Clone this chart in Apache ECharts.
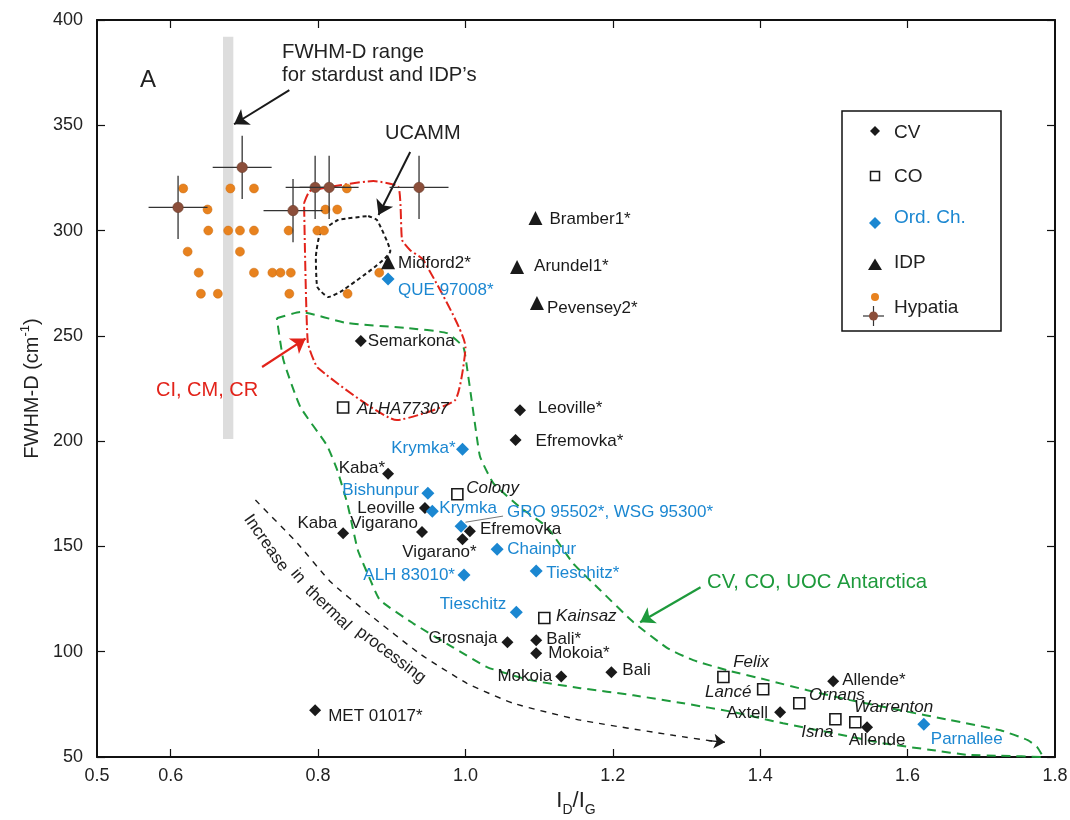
<!DOCTYPE html>
<html><head><meta charset="utf-8">
<script src="https://cdn.jsdelivr.net/npm/echarts@6/dist/echarts.min.js"></script>
<style>html,body{margin:0;padding:0;background:#fff}#c{width:1070px;height:820px}</style>
</head><body><div id="c"></div>
<script>
// ---------------- DATA ----------------
const cvNames = ['Semarkona','Leoville*','Efremovka*','Kaba*','Leoville','Kaba','Vigarano','Efremovka','Vigarano*','Grosnaja','Bali*','Mokoia*','Mokoia','Bali','MET 01017*','Allende*','Axtell','Allende'];
const cvX = [0.858,1.074,1.068,0.895,0.945,0.834,0.941,1.006,0.996,1.057,1.096,1.096,1.130,1.198,0.796,1.499,1.427,1.545];
const cvY = [247.5,214.7,200.5,184.5,168.3,156.3,156.8,157.2,153.4,104.5,105.5,99.3,88.2,90.3,72.2,86.0,71.3,64.1];

const coNames = ['ALHA77307','Colony','Kainsaz','Felix','Lancé','Ornans','Isna','Warrenton'];
const coX = [0.834,0.989,1.107,1.350,1.404,1.453,1.502,1.529];
const coY = [216.0,174.8,116.0,88.0,82.2,75.5,67.9,66.5];

const ocNames = ['QUE 97008*','Krymka*','Bishunpur','Krymka','GRO 95502*, WSG 95300*','Chainpur','Tieschitz*','ALH 83010*','Tieschitz','Parnallee'];
const ocX = [0.895,0.996,0.949,0.955,0.994,1.043,1.096,0.998,1.069,1.622];
const ocY = [277.0,196.2,175.3,166.7,159.6,148.7,138.3,136.4,118.8,65.6];

const idpNames = ['Midford2*','Bramber1*','Arundel1*','Pevensey2*'];
const idpX = [0.895,1.095,1.070,1.097];
const idpY = [285.0,306.0,282.7,265.6];

const hypX = [0.617,0.681,0.713,0.839, 0.650,0.810,0.826, 0.651,0.678,0.694,0.713,0.760,0.799,0.808, 0.623,0.694, 0.638,0.713,0.738,0.749,0.763,0.883, 0.641,0.664,0.761,0.840];
const hypY = [320,320,320,320, 310,310,310, 300,300,300,300,300,300,300, 290,290, 280,280,280,280,280,280, 270,270,270,270];

const hypEX = [0.610,0.697,0.766,0.796,0.815,0.937];
const hypEY = [311,330,309.5,320.5,320.5,320.5];
const hypXErr = 0.04;
const hypYErr = 15;

const bandRange = [[0.671,201],[0.685,392]];

const ciOutline = [[0.781,313.1],[0.789,318.8],[0.875,323.5],[0.909,320.7],[0.914,295.5],[0.925,290.7],[0.943,286.0],[1.000,244.7],[0.986,219.5],[0.907,210.0],[0.800,234.7],[0.786,247.0],[0.781,313.1]];
const ucammOutline = [[0.868,306.9],[0.880,305.0],[0.898,290.3],[0.834,271.7],[0.814,268.4],[0.799,273.2],[0.797,287.4],[0.803,298.8],[0.827,305.0],[0.868,306.9]];
const antOutline = [[0.744,258.4],[0.776,261.3],[0.839,256.1],[0.921,253.7],[0.975,251.3],[0.997,244.7],[1.002,235.2],[1.016,200.5],[1.020,192.4],[1.038,180.0],[1.074,168.6],[1.111,159.1],[1.146,142.0],[1.183,129.2],[1.228,114.0],[1.274,101.7],[1.309,96.0],[1.355,91.2],[1.410,86.5],[1.464,81.7],[1.522,77.0],[1.590,72.2],[1.658,67.5],[1.726,62.7],[1.763,58.0],[1.776,54.6],[1.784,50.0],[1.726,50.6],[1.681,51.0],[1.635,53.2],[1.567,56.5],[1.499,61.3],[1.431,66.0],[1.364,71.3],[1.296,75.5],[1.228,79.3],[1.156,82.7],[1.088,86.5],[1.030,92.6],[0.983,102.1],[0.929,113.5],[0.884,124.5],[0.871,134.0],[0.854,148.2],[0.840,170.0],[0.826,186.2],[0.812,198.0],[0.776,216.2],[0.753,238.5],[0.744,258.4]];
const thermalCurve = [[0.715,172.0],[0.772,151.5],[0.816,133.5],[0.871,117.3],[0.939,98.8],[1.002,85.0],[1.065,75.5],[1.156,67.5],[1.282,60.3],[1.335,57.6]];
const thermalHead = [[1.330,57.8],[1.352,57.0]];

const arrowStardust = [[0.761,366.7],[0.686,350.5]];
const arrowUcamm = [[0.925,337.3],[0.882,307.4]];
const arrowCI = [[0.724,235.2],[0.783,248.7]];
const arrowAnt = [[1.319,130.6],[1.237,114.0]];
const groLeader = [[1.000,161.5],[1.051,164.4]];

const xLabelValues = [0.5,0.6,0.8,1.0,1.2,1.4,1.6,1.8];
const xTickValues = [0.6,0.8,1.0,1.2,1.4,1.6];

// ---------------- STYLE ----------------
const F = '"Liberation Sans", Arial, Helvetica, sans-serif';
const BLACK = '#1a1a1a', BLUE = '#1b87d1', GREEN = '#1e9a3c', RED = '#e2231a', ORANGE = '#e8821e', BROWN = '#8b4e3a';

// label placement: [position, distance, dx, dy]
const LBL = {
 'Semarkona':['right',1,0,0],'Leoville*':['right',12,0,-2],'Efremovka*':['right',14,0,1],
 'Kaba*':['left',-3,0,-5],'Leoville':['left',4,0,0],'Kaba':['left',0,0,-10],'Vigarano':['left',-2,0,-9],
 'Efremovka':['right',4,0,-2],'Vigarano*':['bottom',-1,-23,0],'Grosnaja':['left',4,0,-4],'Bali*':['right',4,0,-1],
 'Mokoia*':['right',6,0,0],'Mokoia':['left',3,0,0],'Bali':['right',5,0,-2],'MET 01017*':['right',7,0,6],
 'Allende*':['right',3,0,-1],'Axtell':['left',6,0,1],'Allende':['bottom',-1,10,0],
 'ALHA77307':['right',7.5,0,2],'Colony':['right',2.5,0,-6],'Kainsaz':['right',5.5,0,-2],'Felix':['right',3.5,0,-15],
 'Lancé':['left',5.5,0,3],'Ornans':['right',3.5,0,-8],'Isna':['bottom',-1.5,-18,0],'Warrenton':['right',-7.5,0,-15],
 'QUE 97008*':['right',3.5,0,11],'Krymka*':['left',0.5,0,-1],'Bishunpur':['left',2.5,0,-3],'Krymka':['right',0.5,0,-3],
 'GRO 95502*, WSG 95300*':['right',39.5,0,-14],'Chainpur':['right',3.5,0,0],'Tieschitz*':['right',3.5,0,2],
 'ALH 83010*':['left',2.5,0,0],'Tieschitz':['left',3.5,0,-8],'Parnallee':['right',0.5,0,15],
 'Midford2*':['right',3,0,1],'Bramber1*':['right',7,0,1],'Arundel1*':['right',10,0,-1],'Pevensey2*':['right',3,0,5]
};

function pts(names, xs, ys, color, italic) {
  return names.map((n, i) => {
    const l = LBL[n] || ['right',4,0,0];
    return { name: n, value: [xs[i], ys[i]],
      label: { show: true, formatter: n, position: l[0], distance: l[1], offset: [l[2], l[3]],
        fontSize: 17, fontFamily: F, color: color, fontStyle: italic ? 'italic' : 'normal' } };
  });
}
function arrow(coords, color, width, size) {
  return { type: 'lines', coordinateSystem: 'cartesian2d', silent: true, z: 4,
    symbol: ['none','arrow'], symbolSize: size || 13,
    lineStyle: { color: color, width: width || 2, opacity: 1, curveness: 0 },
    data: [{ coords: coords }] };
}
function outline(data, color, type, width) {
  return { type: 'line', data: data, showSymbol: false, symbol: 'none', silent: true, z: 3, smooth: 0.15,
    lineStyle: { color: color, width: width, type: type } };
}
function txt(x, y, s, size, color, align, rot) {
  return { type: 'text', x: x, y: y, rotation: (rot || 0) * Math.PI / 180, z: 20,
    style: { text: s, fontSize: size, fontFamily: F, fill: color, align: align, verticalAlign: 'middle', textAlign: align, textVerticalAlign: 'middle' } };
}

const chart = echarts.init(document.getElementById('c'), null, { renderer: 'canvas' });

const axisLineStyle = { color: '#111', width: 2 };
const option = {
  animation: false,
  backgroundColor: '#fff',
  grid: { left: 97, right: 15, top: 20, bottom: 63, outerBoundsMode: 'none', containLabel: false },
  xAxis: [
    { type: 'value', min: 0.5, max: 1.8, position: 'bottom',
      axisLine: { show: true, onZero: false, lineStyle: axisLineStyle },
      axisTick: { show: true, inside: true, length: 8, customValues: xTickValues, lineStyle: { color: '#111', width: 1.2 } },
      axisLabel: { customValues: xLabelValues, formatter: v => Number(v).toFixed(1), fontSize: 18, fontFamily: F, color: '#222', margin: 10, showMinLabel: true, showMaxLabel: true },
      splitLine: { show: false },
      name: '{a|I}{b|D}{a|/I}{b|G}', nameLocation: 'middle', nameGap: 33,
      nameTextStyle: { rich: {
        a: { fontSize: 22, fontFamily: F, color: '#222', lineHeight: 24, verticalAlign: 'top' },
        b: { fontSize: 14, fontFamily: F, color: '#222', lineHeight: 14, verticalAlign: 'top', padding: [13,0,0,0] } } } },
    { type: 'value', min: 0.5, max: 1.8, position: 'top',
      axisLine: { show: true, onZero: false, lineStyle: axisLineStyle },
      axisTick: { show: true, inside: true, length: 8, customValues: xTickValues, lineStyle: { color: '#111', width: 1.2 } },
      axisLabel: { show: false }, splitLine: { show: false } }
  ],
  yAxis: [
    { type: 'value', min: 50, max: 400, interval: 50, position: 'left',
      axisLine: { show: true, onZero: false, lineStyle: axisLineStyle },
      axisTick: { show: true, inside: true, length: 8, lineStyle: { color: '#111', width: 1.2 } },
      axisLabel: { fontSize: 18, fontFamily: F, color: '#222', margin: 14, showMinLabel: true, showMaxLabel: true },
      splitLine: { show: false },
      name: '{a|FWHM-D (cm}{s|-1}{a|)}', nameLocation: 'middle', nameGap: 52, nameRotate: 90,
      nameTextStyle: { rich: {
        a: { fontSize: 20, fontFamily: F, color: '#222', lineHeight: 24, verticalAlign: 'top', padding: [3,0,0,0] },
        s: { fontSize: 13, fontFamily: F, color: '#222', lineHeight: 13, verticalAlign: 'top' } } } },
    { type: 'value', min: 50, max: 400, interval: 50, position: 'right',
      axisLine: { show: true, onZero: false, lineStyle: axisLineStyle },
      axisTick: { show: true, inside: true, length: 8, lineStyle: { color: '#111', width: 1.2 } },
      axisLabel: { show: false }, splitLine: { show: false } }
  ],
  series: [
    { type: 'scatter', name: 'Hypatia', symbol: 'circle', symbolSize: 9, z: 5,
      itemStyle: { color: ORANGE, borderColor: '#c86a10', borderWidth: 0.5, opacity: 1 },
      data: hypX.map((x, i) => [x, hypY[i]]),
      markArea: { silent: true, itemStyle: { color: '#dddddd', opacity: 1 }, z: 1,
        data: [[{ coord: bandRange[0] }, { coord: bandRange[1] }]] } },
    outline(antOutline, GREEN, [9, 6], 2),
    outline(ciOutline, RED, [10, 3, 2, 3], 2),
    outline(ucammOutline, BLACK, [4, 3], 2),
    outline(thermalCurve, BLACK, [6, 6], 1.4),
    arrow(thermalHead, BLACK, 1.4, 11),
    arrow(arrowStardust, BLACK, 2, 14),
    arrow(arrowUcamm, BLACK, 2, 14),
    arrow(arrowCI, RED, 2.2, 14),
    arrow(arrowAnt, GREEN, 2.2, 14),
    { type: 'lines', coordinateSystem: 'cartesian2d', silent: true, z: 4, symbol: 'none',
      lineStyle: { color: '#777', width: 1, opacity: 1 }, data: [{ coords: groLeader }] },
    { type: 'custom', name: 'HypatiaErr', z: 6,
      data: hypEX.map((x, i) => [x, hypEY[i]]),
      renderItem: (params, api) => {
        const x = api.value(0), y = api.value(1);
        const l = api.coord([x - hypXErr, y]), r = api.coord([x + hypXErr, y]);
        const t = api.coord([x, y + hypYErr]), b = api.coord([x, y - hypYErr]);
        const c = api.coord([x, y]);
        return { type: 'group', children: [
          { type: 'line', shape: { x1: l[0], y1: l[1], x2: r[0], y2: r[1] }, style: { stroke: '#333', lineWidth: 1.3 } },
          { type: 'line', shape: { x1: t[0], y1: t[1], x2: b[0], y2: b[1] }, style: { stroke: '#333', lineWidth: 1.3 } },
          { type: 'circle', shape: { cx: c[0], cy: c[1], r: 5.2 }, style: { fill: BROWN, stroke: '#6a3a28', lineWidth: 0.6 } }
        ] };
      } },
    { type: 'scatter', name: 'CV', symbol: 'diamond', symbolSize: 12, z: 7,
      itemStyle: { color: BLACK, opacity: 1 }, data: pts(cvNames, cvX, cvY, BLACK, false) },
    { type: 'scatter', name: 'CO', symbol: 'rect', symbolSize: 11, z: 7,
      itemStyle: { color: '#fff', borderColor: BLACK, borderWidth: 1.6, opacity: 1 }, data: pts(coNames, coX, coY, BLACK, true) },
    { type: 'scatter', name: 'Ord. Ch.', symbol: 'diamond', symbolSize: 13, z: 7,
      itemStyle: { color: BLUE, opacity: 1 }, data: pts(ocNames, ocX, ocY, BLUE, false) },
    { type: 'scatter', name: 'IDP', symbol: 'triangle', symbolSize: 14, z: 7,
      itemStyle: { color: BLACK, opacity: 1 }, data: pts(idpNames, idpX, idpY, BLACK, false) }
  ],
  graphic: [
    txt(148, 80, 'A', 24, '#222', 'center'),
    txt(282, 52, 'FWHM-D range', 20.3, '#222', 'left'),
    txt(282, 75, 'for stardust and IDP\u2019s', 20.3, '#222', 'left'),
    txt(385, 133, 'UCAMM', 20, '#222', 'left'),
    txt(156, 390, 'CI, CM, CR', 20, RED, 'left'),
    txt(707, 582, 'CV, CO, UOC Antarctica', 20.3, GREEN, 'left'),
    txt(266, 543, 'Increase', 17, '#222', 'center', -55),
    txt(298, 576, 'in', 17, '#222', 'center', -50),
    txt(328, 608, 'thermal', 17, '#222', 'center', -44),
    txt(391, 655, 'processing', 17, '#222', 'center', -37),
    // legend
    { type: 'group', z: 100, children: [
      { type: 'rect', shape: { x: 842, y: 111, width: 159, height: 220 }, style: { fill: '#fff', stroke: '#111', lineWidth: 1.5 } },
      { type: 'polygon', shape: { points: [[875,126],[880,131],[875,136],[870,131]] }, style: { fill: BLACK } },
      { type: 'text', x: 894, y: 133, style: { text: 'CV', fontSize: 19, fontFamily: F, fill: '#222', verticalAlign: 'middle', textVerticalAlign: 'middle' } },
      { type: 'rect', shape: { x: 870.5, y: 171.5, width: 9, height: 9 }, style: { fill: '#fff', stroke: BLACK, lineWidth: 1.5 } },
      { type: 'text', x: 894, y: 177, style: { text: 'CO', fontSize: 19, fontFamily: F, fill: '#222', verticalAlign: 'middle', textVerticalAlign: 'middle' } },
      { type: 'polygon', shape: { points: [[875,217],[881,223],[875,229],[869,223]] }, style: { fill: BLUE } },
      { type: 'text', x: 894, y: 218, style: { text: 'Ord. Ch.', fontSize: 19, fontFamily: F, fill: BLUE, verticalAlign: 'middle', textVerticalAlign: 'middle' } },
      { type: 'polygon', shape: { points: [[875,258.5],[882,270],[868,270]] }, style: { fill: BLACK } },
      { type: 'text', x: 894, y: 263, style: { text: 'IDP', fontSize: 19, fontFamily: F, fill: '#222', verticalAlign: 'middle', textVerticalAlign: 'middle' } },
      { type: 'circle', shape: { cx: 875, cy: 297, r: 4 }, style: { fill: ORANGE } },
      { type: 'line', shape: { x1: 863, y1: 316, x2: 884, y2: 316 }, style: { stroke: '#333', lineWidth: 1.2 } },
      { type: 'line', shape: { x1: 873.5, y1: 306, x2: 873.5, y2: 326 }, style: { stroke: '#333', lineWidth: 1.2 } },
      { type: 'circle', shape: { cx: 873.5, cy: 316, r: 4.5 }, style: { fill: BROWN } },
      { type: 'text', x: 894, y: 308, style: { text: 'Hypatia', fontSize: 19, fontFamily: F, fill: '#222', verticalAlign: 'middle', textVerticalAlign: 'middle' } }
    ] }
  ]
};
chart.setOption(option);
</script>
</body></html>
